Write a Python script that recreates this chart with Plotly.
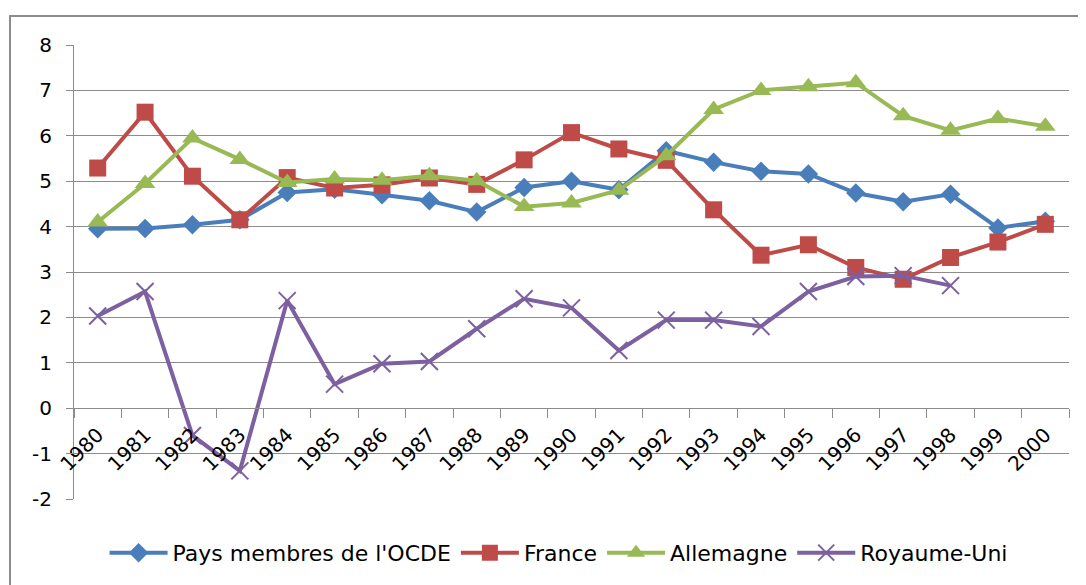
import plotly.graph_objects as go

years = [str(y) for y in range(1980, 2001)]

ocde = [3.95, 3.96, 4.04, 4.15, 4.75, 4.82, 4.70, 4.57, 4.32, 4.86,
        5.00, 4.81, 5.67, 5.42, 5.22, 5.16, 4.74, 4.55, 4.71, 3.97, 4.12]
france = [5.29, 6.52, 5.11, 4.15, 5.08, 4.85, 4.92, 5.07, 4.93, 5.47,
          6.07, 5.71, 5.46, 4.37, 3.37, 3.60, 3.10, 2.84, 3.32, 3.66, 4.05]
allemagne = [4.10, 4.95, 5.95, 5.48, 4.97, 5.05, 5.02, 5.12, 5.01, 4.44,
             4.52, 4.80, 5.56, 6.58, 7.00, 7.08, 7.17, 6.44, 6.12, 6.38, 6.21]
royaume_uni = [2.03, 2.57, -0.60, -1.38, 2.37, 0.53, 0.98, 1.03, 1.75, 2.41,
               2.21, 1.27, 1.94, 1.94, 1.80, 2.57, 2.90, 2.92, 2.70, None, None]

y_ticks = [-2, -1, 0, 1, 2, 3, 4, 5, 6, 7, 8]
y_labels = ["-2", "-1", "0", "1", "2", "3", "4", "5", "6", "7", "8"]

GRID = "#8c8c8c"

series = [
    ("Pays membres de l'OCDE", ocde, "#4A7EBB", {"symbol": "diamond", "size": 15}),
    ("France", france, "#BE4B48", {"symbol": "square", "size": 17}),
    ("Allemagne", allemagne, "#98B954", {"symbol": "triangle-up", "size": 18}),
    ("Royaume-Uni", royaume_uni, "#7D60A0",
     {"symbol": "x-thin", "size": 17, "line": {"width": 2, "color": "#7D60A0"}}),
]

fig = go.Figure()
for name, values, color, marker in series:
    fig.add_trace(go.Scatter(
        x=years,
        y=values,
        name=name,
        mode="lines+markers",
        line={"color": color, "width": 4},
        marker={"color": color, **marker},
        connectgaps=False,
    ))

# the page body keeps its default 8px margin, so the figure is sized to fit inside it
fig.update_layout(
    width=1078,
    height=577,
    margin={"l": 66, "r": 17, "t": 37, "b": 85},
    plot_bgcolor="white",
    paper_bgcolor="white",
    font={"family": "DejaVu Sans", "color": "black", "size": 20},
    legend={
        "orientation": "h",
        "x": 0.487,
        "xanchor": "center",
        "y": -0.07,
        "yanchor": "top",
        "font": {"size": 22},
        "itemwidth": 58,
    },
    xaxis={
        "type": "category",
        "range": [-0.5, 20.5],
        "anchor": "free",
        "position": 0.2,
        "automargin": False,
        "showline": True,
        "linecolor": GRID,
        "linewidth": 1,
        "ticks": "outside",
        "tickson": "boundaries",
        "ticklen": 9,
        "tickcolor": GRID,
        "tickangle": -45,
        "showgrid": False,
        "ticklabelstandoff": 6,
    },
    yaxis={
        "range": [-2, 8],
        "tickvals": y_ticks,
        "ticktext": y_labels,
        "automargin": False,
        "showgrid": True,
        "gridcolor": GRID,
        "gridwidth": 1,
        "zeroline": False,
        "showline": True,
        "linecolor": GRID,
        "ticks": "outside",
        "ticklen": 7,
        "tickcolor": GRID,
        "ticklabelstandoff": 10,
    },
    shapes=[{
        "type": "rect",
        "xref": "paper",
        "yref": "paper",
        "x0": -0.0643,
        "x1": 1.03,
        "y0": -0.21,
        "y1": 1.0637,
        "line": {"color": "#8c8c8c", "width": 2},
        "layer": "below",
    }],
)

fig.write_html("out.html")
